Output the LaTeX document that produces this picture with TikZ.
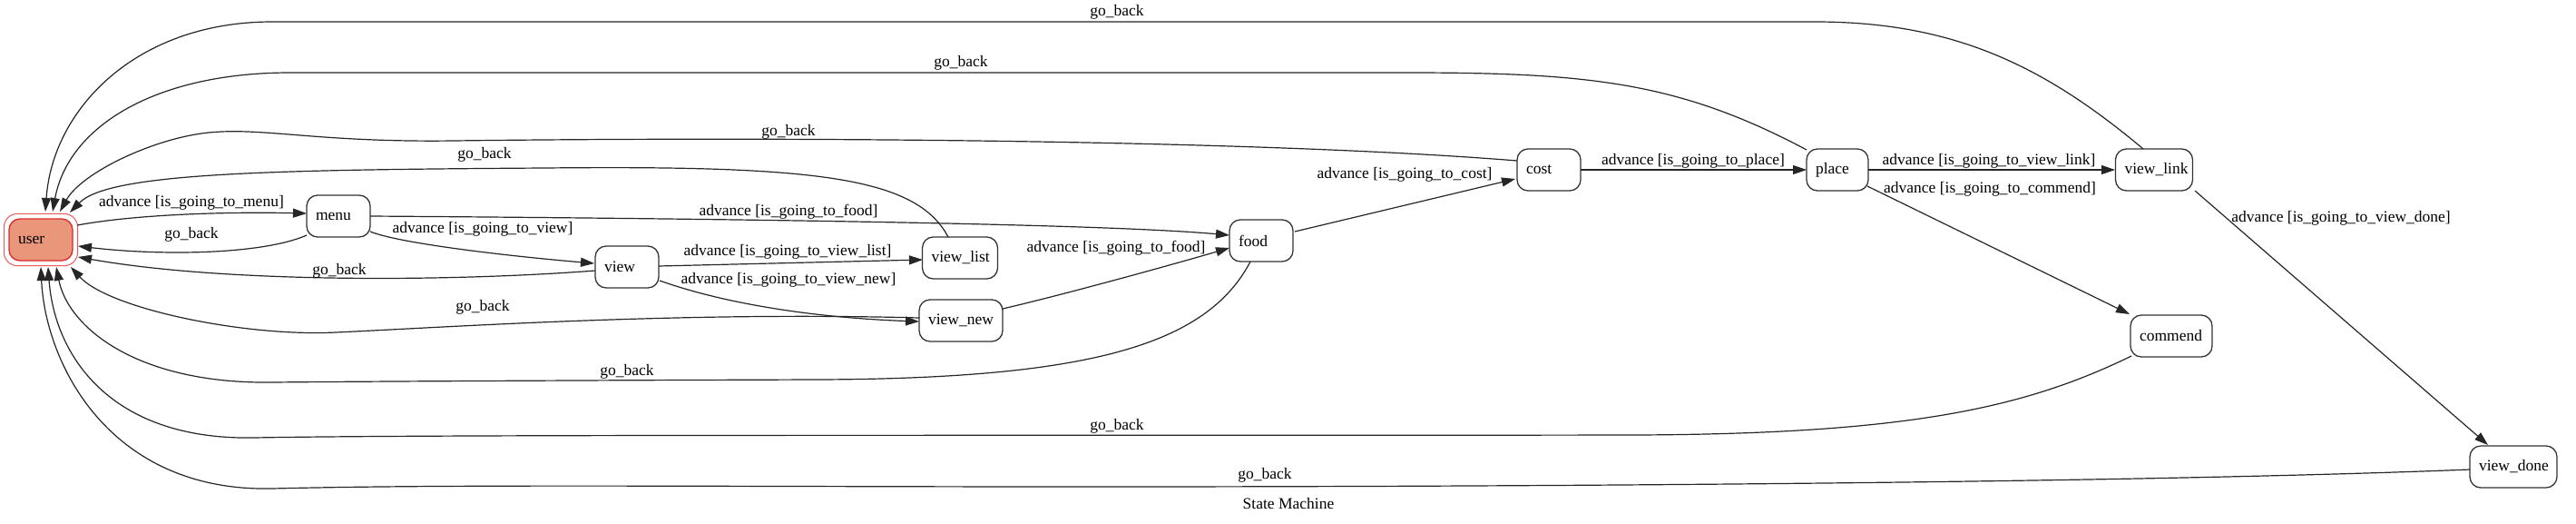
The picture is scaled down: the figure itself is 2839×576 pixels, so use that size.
\documentclass[tikz,border=0pt]{standalone}
\usepackage{fontspec}
\setmainfont{Liberation Serif}
\usetikzlibrary{arrows.meta,calc}
\definecolor{salmonfill}{RGB}{233,150,122}
\definecolor{userred}{RGB}{220,40,40}
\definecolor{userout}{RGB}{235,90,90}
\begin{document}
\begin{tikzpicture}[x=1pt,y=-1pt,
  every node/.style={font=\fontsize{17.5}{20}\selectfont},
  state/.style={draw=black!80, line width=1.3pt, rounded corners=12pt, minimum height=46pt, inner xsep=10pt, inner ysep=0pt, align=left},
  edge/.style={line width=1.2pt, draw=black!85, -{Triangle[length=15pt,width=10pt]}},
  lbl/.style={inner sep=0pt}]
\fill[white] (0,0) rectangle (2839,576);
\useasboundingbox (0,0) rectangle (2839,576);

% nodes
\node[state, fill=salmonfill, draw=userred, text width=50pt] (user) at (45,264) {user};
\draw[userout, line width=1pt, rounded corners=15pt] ($(user.south west)+(-5,5)$) rectangle ($(user.north east)+(5,-5)$);
\node[state, text width=50pt] (menu) at (373,238) {menu};
\node[state, text width=50pt] (view) at (691,294) {view};
\node[state, text width=63pt] (vlist) at (1058,284) {view\_list};
\node[state, text width=72pt] (vnew) at (1059,353) {view\_new};
\node[state, text width=50pt] (food) at (1390,265) {food};
\node[state, text width=50pt] (cost) at (1707,187) {cost};
\node[state, text width=48pt] (place) at (2025,187) {place};
\node[state, text width=65pt] (vlink) at (2374,187) {view\_link};
\node[state, text width=70pt] (commend) at (2393,370) {commend};
\node[state, text width=76pt] (vdone) at (2770,514) {view\_done};
\node[lbl] (title) at (1420,555) {State Machine};

% forward edges
\draw[edge] ($(user)+(40,-16)$) .. controls (150,236) and (250,233) .. ($(menu)+(-35,-3)$)
  node[lbl] at (211,223) {advance [is\_going\_to\_menu]};
\draw[edge] ($(menu)+(35,17)$) .. controls (440,268) and (560,282) .. ($(view)+(-36,-4)$)
  node[lbl] at (532,252) {advance [is\_going\_to\_view]};
\draw[edge] ($(menu)+(35,0)$) .. controls (700,240) and (1200,245) .. ($(food)+(-35,-6)$)
  node[lbl] at (869,233) {advance [is\_going\_to\_food]};
\draw[edge] ($(view)+(35,-1)$) -- ($(vlist)+(-41,2)$)
  node[lbl] at (868,277) {advance [is\_going\_to\_view\_list]};
\draw[edge] ($(view)+(36,15)$) .. controls (800,335) and (900,350) .. ($(vnew)+(-46,1)$)
  node[lbl] at (869,308) {advance [is\_going\_to\_view\_new]};
\draw[edge] ($(vnew)+(46,-13)$) .. controls (1170,325) and (1290,292) .. ($(food)+(-35,8)$)
  node[lbl] at (1230,273) {advance [is\_going\_to\_food]};
\draw[edge] ($(food)+(37,-10)$) -- ($(cost)+(-37,10)$)
  node[lbl] at (1548,192) {advance [is\_going\_to\_cost]};
\draw[edge] ($(cost)+(35,0)$) -- ($(place)+(-34,0)$)
  node[lbl] at (1866,177) {advance [is\_going\_to\_place]};
\draw[edge] ($(place)+(34,0)$) -- ($(vlink)+(-43,0)$)
  node[lbl] at (2192,177) {advance [is\_going\_to\_view\_link]};
\draw[edge] ($(place)+(33,18)$) -- ($(commend)+(-46,-24)$)
  node[lbl] at (2193,208) {advance [is\_going\_to\_commend]};
\draw[edge] ($(vlink)+(45,23)$) -- ($(vdone)+(-28,-24)$)
  node[lbl] at (2580,240) {advance [is\_going\_to\_view\_done]};

% go_back edges
\draw[edge] ($(menu)+(-35,21)$) .. controls (290,280) and (180,282) .. ($(user)+(41,7)$)
  node[lbl] at (211,258) {go\_back};
\draw[edge] ($(view)+(-35,4)$) .. controls (500,310) and (250,312) .. ($(user)+(41,19)$)
  node[lbl] at (374,298) {go\_back};
\draw[edge] ($(vnew)+(-46,-3)$) .. controls (750,343) and (500,360) .. (370,366)
  .. controls (270,371) and (120,340) .. ($(user)+(33,30)$)
  node[lbl] at (532,338) {go\_back};
\draw[edge] ($(food)+(-12,23)$) .. controls (1330,380) and (1200,417) .. (900,418)
  .. controls (600,419) and (400,420) .. (300,421)
  .. controls (150,423) and (75,360) .. ($(user)+(17,30)$)
  node[lbl] at (691,409) {go\_back};
\draw[edge] ($(commend)+(-44,22)$) .. controls (2230,450) and (2100,478) .. (1800,479)
  .. controls (1200,480) and (500,478) .. (280,482)
  .. controls (120,485) and (60,390) .. ($(user)+(8,30)$)
  node[lbl] at (1231,469) {go\_back};
\draw[edge] ($(vdone)+(-48,3)$) .. controls (2400,530) and (1800,536) .. (1200,536)
  .. controls (800,536) and (500,533) .. (300,538)
  .. controls (120,542) and (50,400) .. ($(user)+(0,30)$)
  node[lbl] at (1394,523) {go\_back};
\draw[edge] ($(vlist)+(-13,-23)$) .. controls (1010,195) and (900,182) .. (600,185)
  .. controls (300,187) and (120,190) .. ($(user)+(32,-30)$)
  node[lbl] at (534,170) {go\_back};
\draw[edge] ($(cost)+(-35,-10)$) .. controls (1400,155) and (900,150) .. (500,155)
  .. controls (350,157) and (290,140) .. (230,146)
  .. controls (170,152) and (90,190) .. ($(user)+(21,-31)$)
  node[lbl] at (869,145) {go\_back};
\draw[edge] ($(place)+(-34,-22)$) .. controls (1850,90) and (1750,80) .. (1550,80)
  -- (320,80) .. controls (170,80) and (75,140) .. ($(user)+(13,-31)$)
  node[lbl] at (1059,69) {go\_back};
\draw[edge] ($(vlink)+(-12,-23)$) .. controls (2250,70) and (2150,24) .. (2000,24)
  -- (300,24) .. controls (150,24) and (58,120) .. ($(user)+(5,-31)$)
  node[lbl] at (1231,13) {go\_back};
\end{tikzpicture}
\end{document}
